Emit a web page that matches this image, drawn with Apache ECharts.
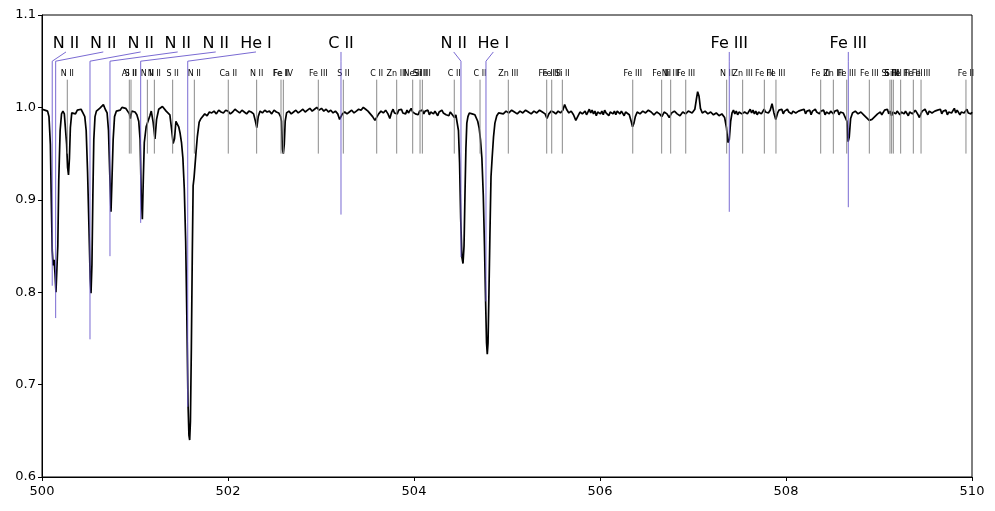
<!DOCTYPE html>
<html>
<head>
<meta charset="utf-8">
<script src="https://cdn.jsdelivr.net/npm/echarts@6/dist/echarts.min.js"></script>
<style>
  html, body { margin: 0; padding: 0; background: #fff; }
  #spec-chart { width: 995px; height: 511px; }
</style>
</head>
<body>
<div id="spec-chart"></div>
<script>
// observed spectrum, [wavelength, normalised flux]
const spectrum = [
  [500.000,0.998],[500.015,0.999],[500.030,0.997],[500.045,0.999],[500.060,0.996],[500.075,0.990],
  [500.090,0.960],[500.100,0.900],[500.110,0.845],[500.120,0.829],[500.130,0.835],[500.140,0.820],
  [500.150,0.800],[500.160,0.802],[500.170,0.850],[500.180,0.920],[500.195,0.975],[500.210,0.993],
  [500.225,0.996],[500.240,0.993],[500.255,0.992],[500.265,0.960],[500.275,0.935],[500.285,0.927],
  [500.295,0.945],[500.305,0.978],[500.320,0.994],[500.340,0.996],[500.360,0.993],[500.380,0.997],
  [500.400,0.996],[500.420,0.998],[500.440,0.994],[500.460,0.990],[500.475,0.975],[500.490,0.930],
  [500.505,0.870],[500.518,0.815],[500.527,0.799],[500.537,0.830],[500.547,0.905],[500.557,0.965],
  [500.570,0.990],[500.585,0.996],[500.600,0.995],[500.620,0.999],[500.640,1.001],[500.660,1.003],
  [500.680,0.998],[500.700,0.994],[500.715,0.975],[500.728,0.930],[500.742,0.887],[500.752,0.920],
  [500.765,0.965],[500.780,0.990],[500.800,0.996],[500.820,0.998],[500.840,0.997],[500.860,1.000],
  [500.880,0.998],[500.900,0.999],[500.920,0.997],[500.940,0.993],[500.950,0.988],[500.965,0.996],
  [500.985,0.997],[501.000,0.995],[501.020,0.992],[501.040,0.985],[501.055,0.965],[501.067,0.905],
  [501.079,0.879],[501.090,0.925],[501.100,0.962],[501.120,0.979],[501.140,0.980],[501.160,0.991],
  [501.175,0.996],[501.195,0.984],[501.215,0.966],[501.232,0.987],[501.255,0.998],[501.275,0.997],
  [501.295,1.001],[501.315,0.999],[501.335,0.996],[501.355,0.997],[501.375,0.992],[501.395,0.975],
  [501.410,0.961],[501.425,0.966],[501.440,0.985],[501.455,0.983],[501.470,0.979],[501.485,0.972],
  [501.500,0.962],[501.515,0.945],[501.530,0.912],[501.545,0.855],[501.558,0.770],[501.570,0.680],
  [501.580,0.645],[501.588,0.640],[501.596,0.660],[501.606,0.740],[501.616,0.840],[501.625,0.915],
  [501.635,0.924],[501.645,0.926],[501.655,0.950],[501.670,0.968],[501.690,0.984],[501.710,0.988],
  [501.730,0.990],[501.750,0.993],[501.775,0.991],[501.800,0.995],[501.825,0.994],[501.850,0.996],
  [501.875,0.993],[501.900,0.997],[501.925,0.995],[501.950,0.994],[501.975,0.997],[502.000,0.996],
  [502.025,0.993],[502.050,0.995],[502.075,0.998],[502.100,0.996],[502.125,0.994],[502.150,0.997],
  [502.175,0.995],[502.200,0.993],[502.225,0.996],[502.250,0.995],[502.275,0.993],[502.295,0.985],
  [502.310,0.978],[502.325,0.990],[502.345,0.996],[502.370,0.994],[502.395,0.997],[502.420,0.995],
  [502.445,0.996],[502.470,0.993],[502.495,0.997],[502.520,0.995],[502.545,0.994],[502.565,0.990],
  [502.575,0.985],[502.585,0.955],[502.595,0.950],[502.605,0.960],[502.615,0.985],[502.630,0.994],
  [502.655,0.996],[502.680,0.993],[502.705,0.995],[502.730,0.997],[502.755,0.994],[502.780,0.996],
  [502.805,0.998],[502.830,0.995],[502.855,0.997],[502.880,0.999],[502.905,0.996],[502.930,0.998],
  [502.955,1.000],[502.980,0.997],[503.005,0.999],[503.030,0.996],[503.055,0.998],[503.080,0.995],
  [503.105,0.997],[503.130,0.994],[503.155,0.996],[503.180,0.993],[503.200,0.987],[503.215,0.985],
  [503.230,0.993],[503.255,0.995],[503.280,0.993],[503.305,0.995],[503.330,0.997],[503.355,0.994],
  [503.380,0.996],[503.405,0.998],[503.430,0.997],[503.455,1.000],[503.480,0.998],[503.505,0.996],
  [503.530,0.993],[503.555,0.990],[503.580,0.986],[503.600,0.986],[503.620,0.993],[503.645,0.996],
  [503.670,0.994],[503.695,0.997],[503.720,0.993],[503.740,0.988],[503.760,0.995],[503.775,0.998],
  [503.790,0.994],[503.805,0.996],[503.820,0.993],[503.835,0.997],[503.850,0.995],[503.865,0.998],
  [503.880,0.994],[503.895,0.996],[503.910,0.993],[503.925,0.997],[503.940,0.994],[503.955,0.996],
  [503.970,0.999],[503.985,0.995],[504.000,0.997],[504.015,0.993],[504.030,0.995],[504.045,0.992],
  [504.060,0.996],[504.075,0.994],[504.090,0.997],[504.105,0.993],[504.120,0.996],[504.135,0.994],
  [504.150,0.997],[504.165,0.992],[504.180,0.995],[504.195,0.997],[504.210,0.993],[504.225,0.996],
  [504.240,0.994],[504.255,0.991],[504.270,0.995],[504.285,0.993],[504.300,0.997],[504.315,0.994],
  [504.330,0.996],[504.345,0.992],[504.360,0.994],[504.375,0.991],[504.390,0.995],[504.410,0.993],
  [504.435,0.989],[504.450,0.992],[504.465,0.990],[504.478,0.975],[504.490,0.940],
  [504.502,0.880],[504.515,0.838],[504.527,0.831],[504.538,0.850],[504.548,0.905],[504.558,0.955],
  [504.568,0.983],[504.580,0.990],[504.595,0.994],[504.610,0.996],[504.625,0.993],[504.640,0.994],
  [504.655,0.992],[504.670,0.990],[504.685,0.985],[504.700,0.978],[504.715,0.965],[504.730,0.945],
  [504.745,0.905],[504.758,0.850],[504.770,0.790],[504.780,0.745],[504.788,0.733],[504.796,0.745],
  [504.806,0.800],[504.816,0.860],[504.828,0.925],[504.840,0.945],[504.855,0.968],[504.870,0.983],
  [504.890,0.991],[504.910,0.994],[504.930,0.995],[504.960,0.993],[504.990,0.996],[505.020,0.994],
  [505.050,0.997],[505.080,0.995],[505.110,0.993],[505.140,0.996],[505.170,0.994],[505.200,0.997],
  [505.230,0.995],[505.260,0.993],[505.290,0.996],[505.320,0.994],[505.350,0.997],[505.380,0.995],
  [505.410,0.993],[505.430,0.988],[505.450,0.993],[505.475,0.996],[505.500,0.995],[505.525,0.993],
  [505.550,0.996],[505.575,0.994],[505.600,0.997],[505.620,1.003],[505.640,0.998],[505.665,0.994],
  [505.690,0.996],[505.715,0.992],[505.740,0.986],[505.760,0.990],[505.785,0.995],[505.810,0.993],
  [505.840,0.996],[505.855,0.992],[505.870,0.995],[505.885,0.998],[505.900,0.994],[505.915,0.997],
  [505.930,0.993],[505.945,0.996],[505.960,0.991],[505.975,0.995],[505.990,0.997],[506.005,0.993],
  [506.020,0.996],[506.035,0.992],[506.050,0.997],[506.065,0.994],[506.080,0.996],[506.095,0.991],
  [506.110,0.995],[506.125,0.997],[506.140,0.993],[506.155,0.996],[506.170,0.992],[506.185,0.996],
  [506.200,0.998],[506.215,0.993],[506.230,0.996],[506.245,0.994],[506.260,0.991],[506.275,0.995],
  [506.290,0.994],[506.315,0.992],[506.335,0.985],
  [506.350,0.979],[506.365,0.983],[506.380,0.990],[506.400,0.995],[506.430,0.993],[506.460,0.996],
  [506.490,0.994],[506.520,0.997],[506.550,0.995],[506.580,0.992],[506.610,0.995],[506.640,0.993],
  [506.665,0.990],[506.690,0.995],[506.720,0.993],[506.745,0.989],[506.770,0.994],[506.800,0.996],
  [506.830,0.993],[506.860,0.991],[506.890,0.995],[506.920,0.993],[506.950,0.996],[506.990,0.994],
  [507.020,0.998],[507.035,1.008],[507.050,1.017],[507.065,1.012],[507.080,0.999],[507.100,0.994],
  [507.130,0.996],[507.160,0.993],[507.190,0.995],[507.220,0.992],[507.250,0.994],[507.280,0.991],
  [507.310,0.993],[507.340,0.989],[507.360,0.978],[507.375,0.962],[507.390,0.965],[507.405,0.985],
  [507.420,0.994],[507.435,0.997],[507.450,0.993],[507.465,0.996],[507.480,0.992],[507.495,0.995],
  [507.510,0.997],[507.525,0.993],[507.540,0.991],[507.555,0.995],[507.570,0.997],[507.585,0.993],
  [507.600,0.995],[507.615,0.998],[507.630,0.994],[507.645,0.997],[507.660,0.993],[507.675,0.996],
  [507.690,0.992],[507.705,0.995],[507.720,0.997],[507.735,0.993],[507.750,0.995],[507.765,0.998],
  [507.780,0.995],[507.795,0.997],[507.810,0.994],[507.830,0.997],[507.850,1.004],[507.870,0.994],
  [507.890,0.987],[507.910,0.994],[507.925,0.997],[507.940,0.995],[507.955,0.998],[507.970,0.993],
  [507.985,0.996],[508.000,0.994],[508.015,0.998],[508.030,0.995],[508.045,0.997],[508.060,0.993],
  [508.075,0.996],[508.090,0.998],[508.105,0.994],[508.120,0.992],[508.135,0.996],[508.150,0.994],
  [508.165,0.997],[508.180,0.995],[508.195,0.998],[508.210,0.993],[508.225,0.996],[508.240,0.994],
  [508.255,0.997],[508.270,0.992],[508.285,0.996],[508.300,0.994],[508.315,0.998],[508.330,0.995],
  [508.345,0.997],[508.360,0.993],[508.375,0.996],[508.390,0.994],[508.405,0.997],[508.420,0.992],
  [508.435,0.995],[508.450,0.997],[508.465,0.993],[508.480,0.996],[508.495,0.998],[508.510,0.993],
  [508.525,0.996],[508.540,0.994],[508.555,0.997],[508.570,0.992],[508.585,0.995],[508.600,0.996],
  [508.615,0.994],[508.630,0.993],
  [508.655,0.985],[508.668,0.963],[508.680,0.968],[508.695,0.988],[508.715,0.994],[508.745,0.996],
  [508.775,0.993],[508.805,0.995],[508.835,0.992],[508.865,0.989],[508.895,0.986],[508.925,0.987],
  [508.955,0.990],[508.985,0.993],[509.015,0.995],[509.030,0.992],[509.045,0.994],[509.060,0.997],
  [509.075,0.995],[509.090,0.998],[509.105,0.993],[509.120,0.996],[509.135,0.991],[509.150,0.995],
  [509.165,0.997],[509.180,0.993],[509.195,0.996],[509.210,0.998],[509.225,0.992],[509.240,0.995],
  [509.255,0.997],[509.270,0.993],[509.285,0.996],[509.300,0.994],[509.315,0.991],[509.330,0.995],
  [509.345,0.997],[509.360,0.993],[509.375,0.994],[509.390,0.997],[509.405,0.995],[509.420,0.992],
  [509.435,0.989],[509.450,0.993],[509.465,0.996],[509.480,0.994],[509.495,0.998],[509.510,0.995],
  [509.525,0.992],[509.540,0.996],[509.555,0.998],[509.570,0.994],[509.585,0.992],[509.600,0.996],
  [509.615,0.994],[509.630,0.997],[509.645,0.995],[509.660,0.998],[509.675,0.993],[509.690,0.996],
  [509.705,0.994],[509.720,0.997],[509.735,0.992],[509.750,0.995],[509.765,0.997],[509.780,0.994],
  [509.795,0.996],[509.810,0.999],[509.825,0.994],[509.840,0.997],[509.855,0.995],[509.870,0.992],
  [509.885,0.995],[509.900,0.997],[509.915,0.994],[509.930,0.996],[509.945,0.998],[509.960,0.994],
  [509.975,0.996],[509.990,0.993],[510.000,0.995]
]

// weak line identifications (grey ticks)
const weakWaves = [
  500.272, 500.939, 500.957, 501.133, 501.208, 501.405, 501.638, 502.003, 502.308, 502.570,
  502.595, 502.971, 503.240, 503.599, 503.814, 503.986, 504.065, 504.090, 504.433, 504.710,
  505.014, 505.427, 505.481, 505.595, 506.352, 506.663, 506.760, 506.922, 507.362, 507.534,
  507.767, 507.892, 508.373, 508.509, 508.653, 508.896, 509.118, 509.136, 509.154, 509.233,
  509.369, 509.452, 509.935
]
const weakLabels = [
  'N II', 'Al II', 'S II', 'N II', 'N II', 'S II', 'N II', 'Ca II', 'N II', 'Fe II',
  'Fe IV', 'Fe III', 'S II', 'C II', 'Zn III', 'Ne II', 'S III', 'Si III', 'C II', 'C II',
  'Zn III', 'Fe II', 'Fe III', 'Si II', 'Fe III', 'Fe III', 'Ni III', 'Fe III', 'N II', 'Zn III',
  'Fe III', 'Fe III', 'Fe III', 'Zn III', 'Fe III', 'Fe III', 'Si III', 'S III', 'Si III', 'Fe III',
  'Fe III', 'Fe III', 'Fe II'
]

// strong line identifications (blue markers)
const strongWaves  = [500.110, 500.147, 500.516, 500.731, 501.061, 501.567, 503.215, 504.505, 504.774, 507.390, 508.670]
const strongLabelX = [500.258, 500.659, 501.061, 501.459, 501.868, 502.301, 503.215, 504.427, 504.853, 507.390, 508.670]
const strongDepth  = [0.807, 0.772, 0.749, 0.839, 0.875, 0.676, 0.884, 0.838, 0.790, 0.887, 0.892]
const strongLabels = ['N II', 'N II', 'N II', 'N II', 'N II', 'He I', 'C II', 'N II', 'He I', 'Fe III', 'Fe III']

const xTicks = [500, 510, 2]
const yTicks = [0.6, 1.1, 0.1]

const FONT = 'DejaVu Sans'
const chart = echarts.init(document.getElementById('spec-chart'))

const weakItem = (params, api) => {
  const w = api.value(0)
  const lo = api.coord([w, 0.95])
  const hi = api.coord([w, 1.03])
  const t = api.coord([w, 1.0358])
  return {
    type: 'group',
    children: [
      {type: 'line', shape: {x1: lo[0], y1: lo[1], x2: hi[0], y2: hi[1]},
        style: {stroke: '#8a8a8a', lineWidth: 1}},
      {type: 'text', x: t[0], y: t[1],
        style: {text: weakLabels[params.dataIndex], fill: '#000', font: '8px "' + FONT + '"',
          align: 'center', verticalAlign: 'middle', textAlign: 'center', textVerticalAlign: 'middle'}}
    ]
  }
}

const strongItem = (params, api) => {
  const i = params.dataIndex
  const w = api.value(0)
  const a = api.coord([strongLabelX[i], 1.06])
  const b = api.coord([w, 1.05])
  const c = api.coord([w, strongDepth[i]])
  const t = api.coord([strongLabelX[i], 1.0692])
  return {
    type: 'group',
    children: [
      {type: 'polyline', shape: {points: [a, b, c]},
        style: {stroke: '#6a5acd', lineWidth: 1, fill: null, opacity: 0.9}},
      {type: 'text', x: t[0], y: t[1],
        style: {text: strongLabels[i], fill: '#000', font: '16px "' + FONT + '"',
          align: 'center', verticalAlign: 'middle', textAlign: 'center', textVerticalAlign: 'middle'}}
    ]
  }
}

const option = {
  animation: false,
  textStyle: {fontFamily: FONT},
  grid: {left: 42, right: 23, top: 15, bottom: 34, show: true, borderColor: '#000', borderWidth: 1},
  xAxis: {
    type: 'value', min: xTicks[0], max: xTicks[1], interval: xTicks[2],
    axisLine: {lineStyle: {color: '#000', width: 1}},
    axisTick: {show: true, length: 4, inside: false, lineStyle: {color: '#000'}},
    axisLabel: {color: '#000', fontSize: 13, margin: 8, fontFamily: FONT},
    splitLine: {show: false}
  },
  yAxis: {
    type: 'value', min: yTicks[0], max: yTicks[1], interval: yTicks[2],
    axisLine: {show: true, lineStyle: {color: '#000', width: 1}},
    axisTick: {show: true, length: 4, inside: false, lineStyle: {color: '#000'}},
    axisLabel: {color: '#000', fontSize: 13, margin: 6, fontFamily: FONT,
      formatter: v => v.toFixed(1)},
    splitLine: {show: false}
  },
  series: [
    {
      type: 'line', data: spectrum, showSymbol: false, symbol: 'none',
      lineStyle: {color: '#000', width: 1.7}, z: 2, silent: true
    },
    {
      type: 'custom', renderItem: weakItem, z: 3, silent: true,
      data: weakWaves.map(w => [w, 1]), encode: {x: 0, y: 1}
    },
    {
      type: 'custom', renderItem: strongItem, z: 4, silent: true,
      data: strongWaves.map(w => [w, 1]), encode: {x: 0, y: 1}
    }
  ]
}

chart.setOption(option)
</script>
</body>
</html>
